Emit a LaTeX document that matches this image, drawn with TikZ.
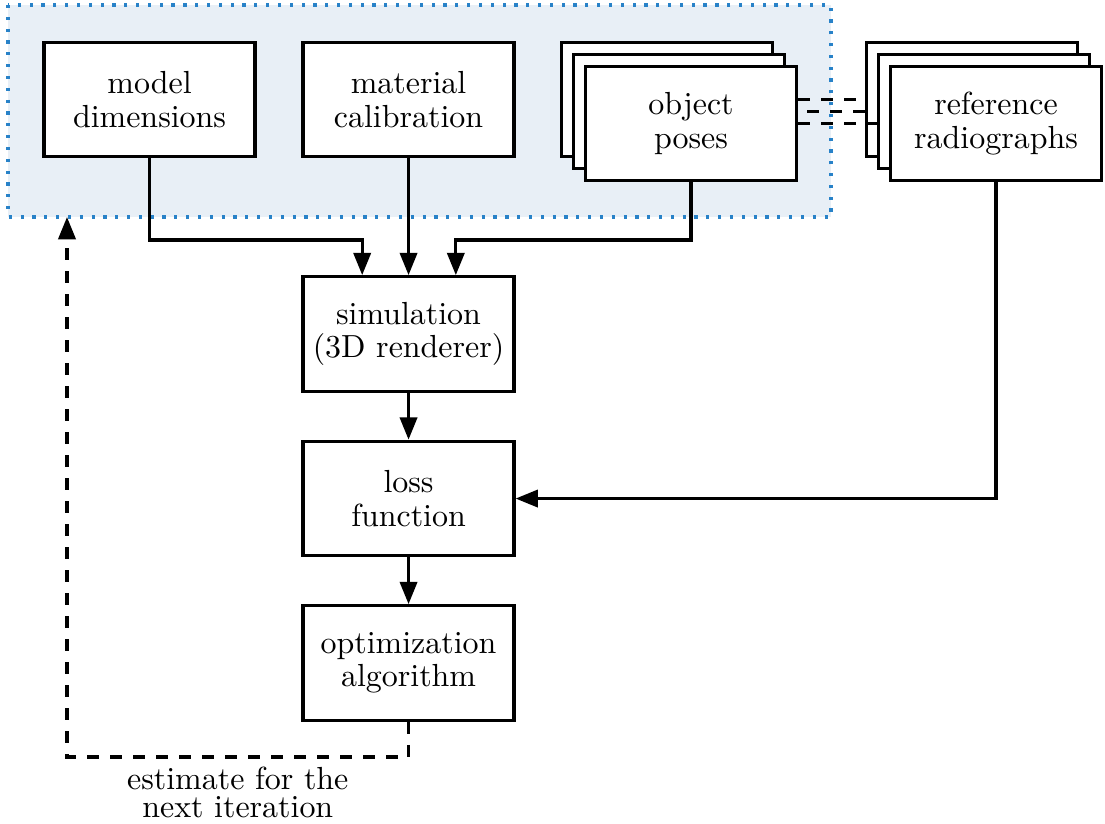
\documentclass[tikz,border=0pt]{standalone}
\usepackage{tikz}
\usepackage{xcolor}
\usetikzlibrary{arrows.meta, calc, positioning}

\definecolor{bgblue}{RGB}{232,239,246}
\definecolor{dotblue}{RGB}{40,130,200}

\begin{document}
\begin{tikzpicture}[
    block/.style={draw, line width=1pt, fill=white, minimum width=2.32cm, minimum height=1.26cm, align=center, inner sep=0pt, font=\fontsize{10}{10.4}\selectfont},
    flow/.style={line width=1pt, -{Triangle[length=7pt,width=5.4pt]}},
    link/.style={line width=1pt, dash pattern=on 3.7pt off 3.5pt}
]
    \useasboundingbox (0,0) rectangle (12.155,-9.053);

    % parameters that get optimized
    \coordinate (grpNW) at (0.088,-0.055);
    \coordinate (grpSE) at (9.141,-2.387);
    \draw[fill=bgblue, draw=dotblue, line width=1.1pt, dash pattern=on 1pt off 2.7pt] (grpNW) rectangle (grpSE);

    \node[block] (dims) at (1.645,-1.095) {model\\dimensions};
    \node[block] (calib) at (4.494,-1.095) {material\\calibration};
    \node[block] (poses3) at (7.337,-1.095) {};
    \node[block] (poses2) at (7.469,-1.227) {};
    \node[block] (poses) at (7.601,-1.359) {object\\poses};

    \node[block] (refs3) at (10.692,-1.095) {};
    \node[block] (refs2) at (10.824,-1.227) {};
    \node[block] (refs) at (10.956,-1.359) {reference\\radiographs};

    \node[block] (sim) at (4.494,-3.674) {simulation\\(3D renderer)};
    \node[block] (loss) at (4.494,-5.484) {loss\\function};
    \node[block] (optim) at (4.494,-7.293) {optimization\\algorithm};

    % inputs of the renderer
    \coordinate (join) at (0,-2.64);
    \coordinate (simL) at ($(sim.north)+(-0.51,0)$);
    \coordinate (simR) at ($(sim.north)+(0.52,0)$);
    \draw[flow] (dims.south) -- (dims.south |- join) -| (simL);
    \draw[flow] (calib.south) -- (sim.north);
    \draw[flow] (poses.south) -- (poses.south |- join) -| (simR);

    \draw[flow] (sim.south) -- (loss.north);
    \draw[flow] (loss.south) -- (optim.north);
    \draw[flow] (refs.south) |- (loss.east);

    % pose <-> radiograph pairing
    \draw[link] (poses.east |- refs3.west) -- (refs3.west);
    \draw[link] (refs3.west |- refs2.west) -- (poses.east |- refs2.west);
    \draw[link] (poses.east) -- (refs.west);

    % feedback loop
    \coordinate (loop) at (0.737,-8.327);
    \draw[link, -{Triangle[length=7pt,width=5.4pt]}] (optim.south) -- (optim.south |- loop)
        -- node[below, align=center, inner sep=2.5pt, font=\fontsize{10}{9}\selectfont] {estimate for the\\next iteration} (loop)
        -- (loop |- grpSE);
\end{tikzpicture}
\end{document}
